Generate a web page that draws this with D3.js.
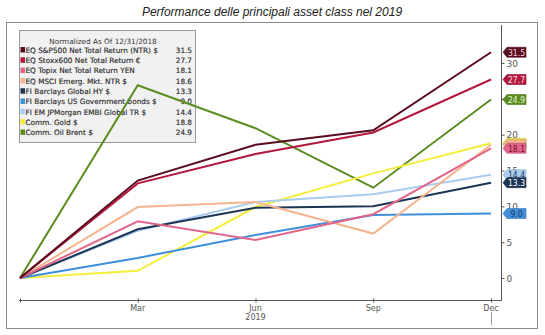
<!DOCTYPE html>
<html><head><meta charset="utf-8">
<script src="https://cdn.jsdelivr.net/npm/d3@7"></script>
<style>body{margin:0;background:#fff}svg{display:block}</style>
</head><body>
<script>
const periods = ["Dec18","Mar","Jun","Sep","Dec"];
const tickLabels = ["", "Mar", "Jun", "Sep", "Dec"];
const seriesNames = [
  "EQ S&P500 Net Total Return (NTR) $",
  "EQ Stoxx600 Net Total Return €",
  "EQ Topix Net Total Return YEN",
  "EQ MSCI Emerg. Mkt. NTR $",
  "FI Barclays Global HY $",
  "FI Barclays US Government bonds $",
  "FI EM JPMorgan EMBI Global TR $",
  "Comm. Gold $",
  "Comm. Oil Brent $"
];
const spx   = [0, 13.6, 18.6, 20.6, 31.5];
const stoxx = [0, 13.2, 17.3, 20.3, 27.7];
const topix = [0, 7.9, 5.3, 8.9, 18.1];
const msci  = [0, 9.9, 10.6, 6.2, 18.6];
const hy    = [0, 6.8, 9.8, 10.0, 13.3];
const usgov = [0, 2.8, 6.0, 8.8, 9.0];
const embi  = [0, 6.6, 10.6, 11.7, 14.4];
const gold  = [0, 1.0, 9.9, 14.6, 18.8];
const oil   = [0, 26.9, 20.9, 12.6, 24.9];
const yTicks = [0, 5, 10, 15, 20, 25, 30];
const seriesValues = [spx, stoxx, topix, msci, hy, usgov, embi, gold, oil];
const colors = ["#5a0d1f","#b3173d","#e2668a","#f5b48e","#1c3555","#3f8fdb","#a9cdf0","#f4ee3a","#5b8c1f"];
const badgeText = ["#f3d0d8","#fbe0e6","#7a1030","#333","#ffffff","#1c3555","#1c3555","#333","#eaf3dc"];
// badges fully hidden under another badge in the reference (no visible label)
const hiddenBadges = [3, 7];

const W = 545, H = 335;
const svg = d3.select("body").append("svg").attr("width", W).attr("height", H);

svg.append("text").attr("x", 272).attr("y", 16).attr("text-anchor","middle")
  .attr("font-family","Liberation Sans, Arial, sans-serif").attr("font-style","italic")
  .attr("font-size", 12).attr("fill","#222").text("Performance delle principali asset class nel 2019");

svg.append("rect").attr("x", 6.5).attr("y", 22.5).attr("width", 531).attr("height", 306)
  .attr("fill","#fff").attr("stroke","#8a8a8a").attr("stroke-width",1);

const x = d3.scalePoint().domain(periods).range([20, 491]);
const y = d3.scaleLinear().domain([0, 30]).range([278, 63]);

// legend (drawn under the lines)
const lg = svg.append("g");
lg.append("rect").attr("x",19.5).attr("y",30.5).attr("width",176).attr("height",112)
  .attr("fill","#f1f1f1").attr("stroke","#9a9a9a");
lg.append("text").attr("x",103).attr("y",43.5).attr("text-anchor","middle")
  .attr("font-family","DejaVu Sans, sans-serif").attr("font-size",7.3).attr("fill","#333")
  .text("Normalized As Of 12/31/2018");
seriesNames.forEach((n,i)=>{
  const yy = 50.5 + i*10.3;
  lg.append("rect").attr("x",20.5).attr("y",yy-3.5).attr("width",4.5).attr("height",5.5).attr("fill",colors[i]);
  lg.append("text").attr("x",25.5).attr("y",yy+2.3)
    .attr("font-family","DejaVu Sans, sans-serif").attr("font-size",7.3).attr("fill","#2a2a2a")
    .attr("stroke","#2a2a2a").attr("stroke-width",0.15).text(n);
  lg.append("text").attr("x",192).attr("y",yy+2.3).attr("text-anchor","end")
    .attr("font-family","DejaVu Sans, sans-serif").attr("font-size",7.3).attr("fill","#2a2a2a")
    .attr("stroke","#2a2a2a").attr("stroke-width",0.15)
    .text(seriesValues[i][4].toFixed(1));
});

// axes
const axisColor = "#555";
svg.append("line").attr("x1",19).attr("x2",501.5).attr("y1",300.5).attr("y2",300.5).attr("stroke",axisColor);
svg.append("line").attr("x1",501.5).attr("x2",501.5).attr("y1",25).attr("y2",300.5).attr("stroke",axisColor);

const xg = svg.append("g").attr("transform","translate(0,300.5)");
xg.selectAll("line.t").data(periods).join("line")
  .attr("x1", d=>x(d)+0.5).attr("x2", d=>x(d)+0.5).attr("y1",-2).attr("y2",2).attr("stroke",axisColor);
xg.selectAll("text").data(periods).join("text")
  .attr("x", d=>x(d)).attr("y", 10).attr("text-anchor","middle")
  .attr("font-family","DejaVu Sans, sans-serif").attr("font-size",8).attr("fill","#555")
  .text((d,i)=>tickLabels[i]);
svg.append("text").attr("x", x("Jun")).attr("y", 320).attr("text-anchor","middle")
  .attr("font-family","DejaVu Sans, sans-serif").attr("font-size",8).attr("fill","#555").text("2019");
svg.append("line").attr("x1",x("Dec")+0.5).attr("x2",x("Dec")+0.5).attr("y1",312).attr("y2",325).attr("stroke","#999");

const yg = svg.append("g").attr("transform","translate(501.5,0)");
yg.selectAll("line").data(yTicks).join("line")
  .attr("x1",0).attr("x2",3).attr("y1",d=>y(d)+0.5).attr("y2",d=>y(d)+0.5).attr("stroke",axisColor);
yg.selectAll("text").data(yTicks).join("text")
  .attr("x",5).attr("y",d=>y(d)+3.5)
  .attr("font-family","DejaVu Sans, sans-serif").attr("font-size",9).attr("fill","#555").text(d=>d);

// lines
const line = d3.line().x((d,i)=>x(periods[i])).y(d=>y(d));
const order = d3.range(seriesValues.length).reverse();
svg.selectAll("path.s").data(order).join("path")
  .attr("d", i=>line(seriesValues[i])).attr("fill","none")
  .attr("stroke", i=>colors[i]).attr("stroke-width",2).attr("stroke-linejoin","miter");

// badges
const badgeOrder = [0,1,8,7,3,2,6,4,5];
const bg = svg.append("g");
badgeOrder.forEach(i=>{
  const v = seriesValues[i][4];
  const cy = y(v);
  const g = bg.append("g");
  g.append("path").attr("d", `M503,${cy} L507,${cy-5} L526,${cy-5} L526,${cy+5} L507,${cy+5} Z`)
    .attr("fill", colors[i]).attr("stroke", d3.color(colors[i]).darker(0.6)).attr("stroke-width",0.6);
  if (!hiddenBadges.includes(i)) {
    g.append("text").attr("x",516.5).attr("y",cy+3.3).attr("text-anchor","middle")
      .attr("font-family","DejaVu Sans Condensed, DejaVu Sans, sans-serif").attr("font-size",8.5)
      .attr("fill", badgeText[i]).text(v.toFixed(1));
  }
});
</script>
</body></html>
